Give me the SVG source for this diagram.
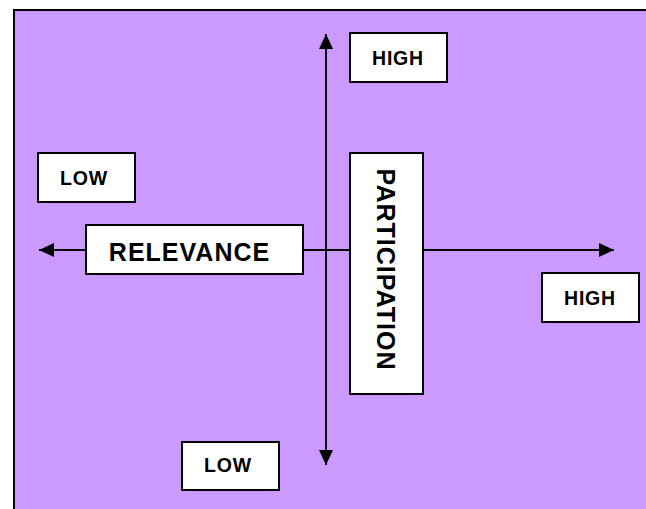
<svg xmlns="http://www.w3.org/2000/svg" width="646" height="509" viewBox="0 0 646 509">
<defs>
<style>
.bg{fill:#CC99FF;stroke:#000;stroke-width:2}
.box{fill:#fff;stroke:#000;stroke-width:2}
.axis{stroke:#000;stroke-width:2;fill:none;marker-end:url(#ah)}
.sm{font-family:"Liberation Sans",Arial,sans-serif;font-weight:bold;font-size:19.5px;letter-spacing:0.8px;text-anchor:middle;fill:#000}
.lg{font-family:"Liberation Sans",Arial,sans-serif;font-weight:bold;font-size:25px;letter-spacing:1px;text-anchor:middle;fill:#000}
</style>
<marker id="ah" markerUnits="userSpaceOnUse" markerWidth="16" markerHeight="14" refX="15" refY="7" orient="auto">
<path d="M0,0 L15,7 L0,14 Z" fill="#000"/>
</marker>
</defs>
<rect width="646" height="509" fill="#fff"/>
<rect class="bg" x="14" y="10" width="700" height="600"/>
<g id="connectors">
<line class="axis" x1="326" y1="250" x2="326" y2="34"/>
<line class="axis" x1="326" y1="250" x2="326" y2="465"/>
<line class="axis" x1="326" y1="250" x2="39" y2="250"/>
<line class="axis" x1="326" y1="250" x2="614" y2="250"/>
</g>
<g id="high-top">
<rect class="box" x="350" y="33" width="97" height="49"/>
<text class="sm" x="398" y="65">HIGH</text>
</g>
<g id="low-left">
<rect class="box" x="38" y="153" width="97" height="49"/>
<text class="sm" x="84" y="185">LOW</text>
</g>
<g id="relevance">
<rect class="box" x="86" y="225" width="217" height="49"/>
<text class="lg" x="189.5" y="261">RELEVANCE</text>
</g>
<g id="participation">
<rect class="box" x="350" y="153" width="73" height="241"/>
<text class="lg" transform="translate(377,269.5) rotate(90)" x="0" y="0">PARTICIPATION</text>
</g>
<g id="high-right">
<rect class="box" x="542" y="273" width="97" height="49"/>
<text class="sm" x="590" y="305">HIGH</text>
</g>
<g id="low-bottom">
<rect class="box" x="182" y="442" width="97" height="48"/>
<text class="sm" x="228" y="472">LOW</text>
</g>
</svg>
